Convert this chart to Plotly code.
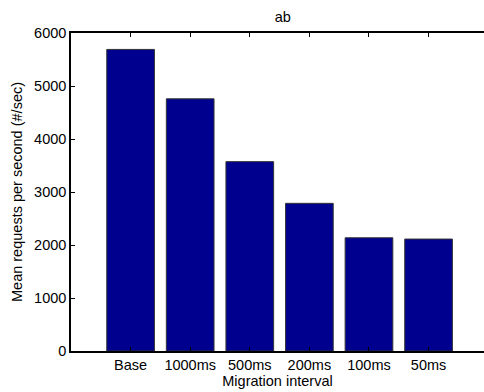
import plotly.graph_objects as go

categories = ["Base", "1000ms", "500ms", "200ms", "100ms", "50ms"]
values = [5690, 4758, 3573, 2786, 2136, 2112]
y_ticks = [0, 1000, 2000, 3000, 4000, 5000, 6000]

positions = list(range(1, len(categories) + 1))

fig = go.Figure()
fig.add_trace(go.Bar(
    x=positions, y=values, width=0.8,
    marker=dict(color="#00008F", line=dict(color="#333333", width=1)),
))

font = dict(family="Liberation Sans, Arial, sans-serif", size=14.5, color="black")

fig.update_layout(
    width=484, height=392,
    margin=dict(l=71, r=0, t=33, b=41),
    plot_bgcolor="white", paper_bgcolor="white",
    showlegend=False,
    font=font,
    title=dict(text="ab", x=0.513, xref="paper", xanchor="center",
               y=1 - 17/392, yref="container", yanchor="middle",
               font=font),
    xaxis=dict(
        range=[0, 6.93], tickmode="array", tickvals=positions, ticktext=categories,
        showline=True, linecolor="black", linewidth=1.5, mirror="ticks",
        ticks="inside", ticklen=4, tickcolor="black", showgrid=False, zeroline=False,
        title=dict(text="Migration interval", standoff=0, font=font),
        tickfont=font, automargin=False,
    ),
    yaxis=dict(
        range=[0, 6000], tickmode="array", tickvals=y_ticks,
        showline=True, linecolor="black", linewidth=1.5, mirror=False,
        ticks="inside", ticklen=4, tickcolor="black", showgrid=False, zeroline=False,
        title=dict(text="Mean requests per second (#/sec)", standoff=8, font=font),
        tickfont=font, automargin=False,
    ),
)

fig.write_html("out.html")
